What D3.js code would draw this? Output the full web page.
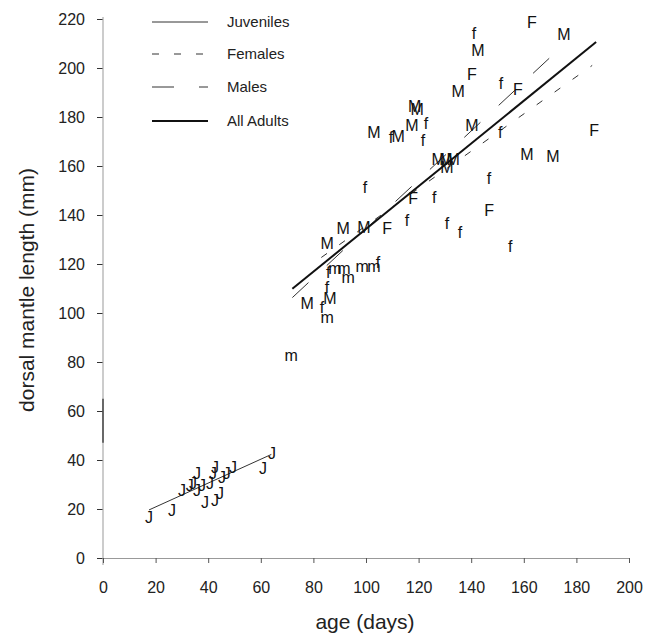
<!DOCTYPE html>
<html>
<head>
<meta charset="utf-8">
<script src="https://cdn.jsdelivr.net/npm/d3@7"></script>
<style>
  body { margin: 0; background: #fff; }
  text { font-family: "Liberation Sans", Arial, sans-serif; }
</style>
</head>
<body>
<svg id="chart" width="645" height="639"></svg>
<script>
// Tick values
const xTicks = [0, 20, 40, 60, 80, 100, 120, 140, 160, 180, 200];
const yTicks = [0, 20, 40, 60, 80, 100, 120, 140, 160, 180, 200, 220];

// Observations: [age (days), dorsal mantle length (mm)]
const juvenilePts = [
  [17.5, 16.7], [26.2, 19.6], [30, 27.8], [33, 29.8], [34.2, 30.6], [35.7, 34.7],
  [35.7, 27.8], [37.6, 29.8], [38.8, 22.9], [40.7, 30.6], [41.8, 34.7], [42.6, 37.1],
  [42.6, 23.7], [44.5, 26.5], [45.2, 33.1], [47.1, 34.7], [49.4, 37.1], [60.8, 36.7],
  [64.3, 42.9]
];
const femaleSmallPts = [
  [83.3, 102.4], [85.2, 110.6], [85.6, 116.7], [104.6, 120.8], [99.6, 151.4],
  [109.5, 171.8], [121.7, 170.6], [122.8, 177.6], [115.6, 138], [125.9, 147.3],
  [130.8, 136.7], [135.7, 133.1], [146.8, 155.1], [154.8, 127.3], [151, 173.9],
  [151.3, 193.9], [141.1, 214.3]
];
const femaleLargePts = [
  [108, 134.7], [117.9, 146.9], [146.8, 142], [140.3, 197.6], [157.8, 191.4],
  [163.1, 218.8], [186.7, 174.7]
];
const maleSmallPts = [
  [71.5, 82.9], [85.2, 98.4], [88.2, 118.4], [91.6, 118.4], [93.2, 114.7],
  [98.5, 119.2], [103, 119.2]
];
const maleLargePts = [
  [77.6, 104.1], [86.3, 106.1], [85.2, 128.6], [91.3, 134.7], [99.2, 135.1],
  [103, 173.9], [112.2, 172.2], [117.5, 176.7], [118.5, 184.5], [119.5, 183],
  [127.4, 162.9], [130.4, 162.9], [133.1, 162.9], [130.8, 159.6], [135, 190.6],
  [140.3, 176.7], [142.6, 207.3], [161.2, 164.9], [171.1, 164.1], [175.3, 213.9]
];

// Fitted growth lines: length = intercept + slope * age
const fitNames = ["Juveniles", "Females", "Males", "All Adults"];
const fitStart = [17.5, 83, 72, 72];
const fitEnd = [64, 186, 172, 187.5];
const fitIntercept = [11.1, 59.5, 34.3, 47.1];
const fitSlope = [0.487, 0.761, 1.0, 0.872];

const fitStyles = [
  { width: 1, dash: null, color: "#333" },
  { width: 1, dash: "7,15", color: "#333" },
  { width: 1, dash: "22,25", color: "#333" },
  { width: 2, dash: null, color: "#111" }
];

const svg = d3.select("#chart");
const x = d3.scaleLinear().domain([0, 200]).range([103, 629]);
const y = d3.scaleLinear().domain([0, 220]).range([558, 19]);

// Y axis
const yAxis = svg.append("g").attr("transform", `translate(${x(0)},0)`)
  .call(d3.axisLeft(y).tickValues(yTicks).tickSize(6).tickPadding(12).tickSizeOuter(0));
yAxis.select(".domain").remove();
yAxis.selectAll(".tick line").attr("stroke", "#333");
yAxis.selectAll(".tick text").attr("font-size", 16).attr("fill", "#222")
  .attr("font-family", "'Liberation Sans', Arial, sans-serif");
svg.append("line")
  .attr("x1", x(0)).attr("x2", x(0)).attr("y1", y(220) - 2).attr("y2", y(0) + 7)
  .attr("stroke", "#aaa").attr("stroke-width", 1.2);
svg.append("line")
  .attr("x1", x(0)).attr("x2", x(0)).attr("y1", y(65)).attr("y2", y(47))
  .attr("stroke", "#333").attr("stroke-width", 1.3);

// X axis
const xAxis = svg.append("g").attr("transform", `translate(0,${y(0)})`)
  .call(d3.axisBottom(x).tickValues(xTicks).tickSize(5).tickPadding(19).tickSizeOuter(0));
xAxis.select(".domain").attr("stroke", "#999").attr("stroke-width", 1.2);
xAxis.selectAll(".tick line").attr("stroke", "#555");
xAxis.selectAll(".tick text").attr("font-size", 16).attr("fill", "#222")
  .attr("font-family", "'Liberation Sans', Arial, sans-serif");

// Axis titles
svg.append("text")
  .attr("x", 365).attr("y", 622).attr("dy", "0.35em")
  .attr("text-anchor", "middle").attr("font-size", 21).attr("fill", "#222")
  .text("age (days)");
svg.append("text")
  .attr("transform", "translate(27,290) rotate(-90)")
  .attr("dy", "0.35em")
  .attr("text-anchor", "middle").attr("font-size", 21).attr("fill", "#222")
  .text("dorsal mantle length (mm)");

// Fitted lines
fitNames.forEach((name, i) => {
  const st = fitStyles[i];
  const a = fitStart[i], b = fitEnd[i];
  svg.append("line")
    .attr("x1", x(a)).attr("y1", y(fitIntercept[i] + fitSlope[i] * a))
    .attr("x2", x(b)).attr("y2", y(fitIntercept[i] + fitSlope[i] * b))
    .attr("stroke", st.color).attr("stroke-width", st.width)
    .attr("stroke-dasharray", st.dash);
});

// Point symbols
const groups = [
  { pts: juvenilePts, sym: "J" },
  { pts: femaleSmallPts, sym: "f" },
  { pts: femaleLargePts, sym: "F" },
  { pts: maleSmallPts, sym: "m" },
  { pts: maleLargePts, sym: "M" }
];
groups.forEach(g => {
  svg.append("g").selectAll("text").data(g.pts).join("text")
    .attr("x", d => x(d[0])).attr("y", d => y(d[1]))
    .attr("dy", "0.36em").attr("text-anchor", "middle")
    .attr("font-size", 16).attr("fill", "#111")
    .text(g.sym);
});

// Legend
const legendY = [22, 54, 87, 121];
const legend = svg.append("g");
fitNames.forEach((name, i) => {
  const st = fitStyles[i];
  legend.append("line")
    .attr("x1", 152).attr("x2", 208).attr("y1", legendY[i]).attr("y2", legendY[i])
    .attr("stroke", st.color).attr("stroke-width", st.width)
    .attr("stroke-dasharray", st.dash);
  legend.append("text")
    .attr("x", 227).attr("y", legendY[i]).attr("dy", "0.35em")
    .attr("font-size", 15).attr("fill", "#222")
    .text(name);
});
</script>
</body>
</html>
